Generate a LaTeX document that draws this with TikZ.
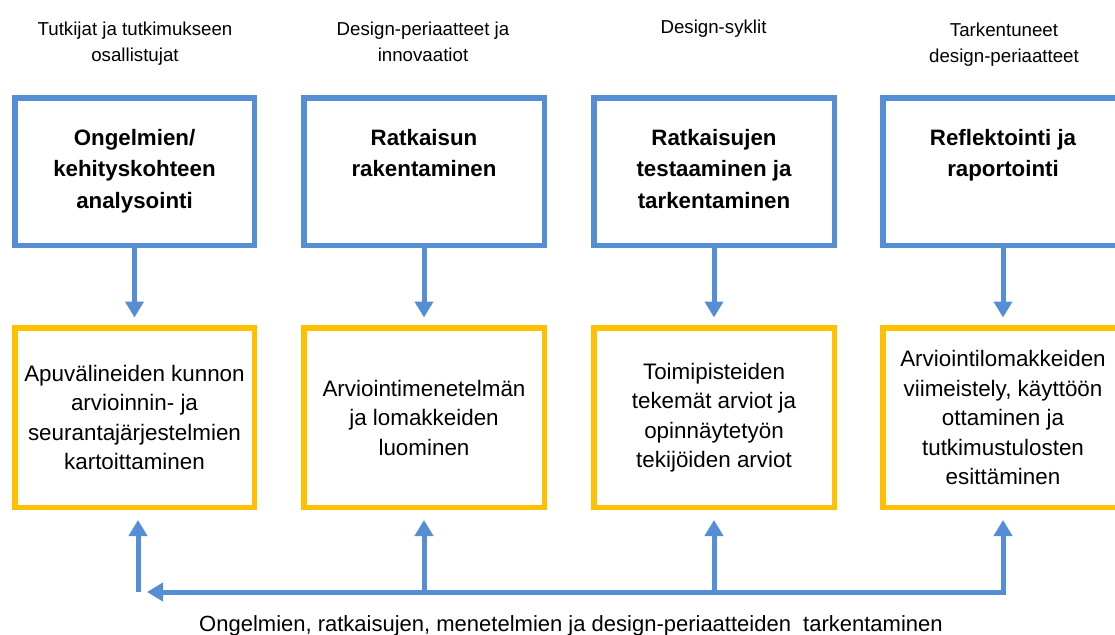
\documentclass[tikz,border=0pt]{standalone}
\usepackage{fontspec}
\setmainfont{Liberation Sans}
\usetikzlibrary{arrows.meta,calc}
\definecolor{bblue}{HTML}{558ED5}
\definecolor{byel}{HTML}{FFC000}
\begin{document}
\begin{tikzpicture}[x=1pt,y=-1pt,
  bluebox/.style={draw=bblue, line width=5.5pt, minimum width=240.5pt, minimum height=147.5pt, inner sep=0pt},
  yelbox/.style={draw=byel, line width=5.5pt, minimum width=240.5pt, minimum height=179.5pt, inner sep=0pt, align=center, font=\fontsize{22.4}{29.5}\selectfont},
  titletext/.style={align=center, font=\bfseries\fontsize{22.3}{31.5}\selectfont, inner sep=0pt, anchor=base},
  toplabel/.style={align=center, font=\fontsize{18.7}{26}\selectfont, inner sep=0pt, anchor=base},
  arr/.style={draw=bblue, line width=5pt, -{Triangle[width=18pt,length=16pt]}},
  arrboth/.style={draw=bblue, line width=5pt, {Triangle[width=18pt,length=16pt]}-{Triangle[width=18pt,length=16pt]}},
]
\useasboundingbox (0,0) rectangle (1115,634);
\clip (0,0) rectangle (1115,634);

% top labels (anchor = baseline of last line)
\node[toplabel] (l1) at (135,62) {Tutkijat ja tutkimukseen\\osallistujat};
\node[toplabel] (l2) at (423,62) {Design-periaatteet ja\\innovaatiot};
\node[toplabel] (l3) at (713.5,33.5) {Design-syklit};
\node[toplabel] (l4) at (1004,63) {Tarkentuneet\\design-periaatteet};

% blue boxes
\node[bluebox, minimum width=239.5pt] (b1) at (134.5,171.5) {};
\node[bluebox] (b2) at (424,171.5) {};
\node[bluebox] (b3) at (714,171.5) {};
\node[bluebox] (b4) at (1003,171.5) {};

% titles (anchor = baseline of last line)
\node[titletext] (t1) at ([yshift=-113.25pt]b1.north) {Ongelmien/\\kehityskohteen\\analysointi};
\node[titletext] (t2) at ([yshift=-81.75pt]b2.north) {Ratkaisun\\rakentaminen};
\node[titletext] (t3) at ([yshift=-113.25pt]b3.north) {Ratkaisujen\\testaaminen ja\\tarkentaminen};
\node[titletext] (t4) at ([yshift=-81.75pt]b4.north) {Reflektointi ja\\raportointi};

% yellow boxes
\node[yelbox, minimum width=239.5pt] (y1) at (134.5,417.5) {Apuvälineiden kunnon\\arvioinnin- ja\\seurantajärjestelmien\\kartoittaminen};
\node[yelbox] (y2) at (424,417.5) {Arviointimenetelmän\\ja lomakkeiden\\luominen};
\node[yelbox] (y3) at (714,417.5) {Toimipisteiden\\tekemät arviot ja\\opinnäytetyön\\tekijöiden arviot};
\node[yelbox] (y4) at (1003,417.5) {Arviointilomakkeiden\\viimeistely, käyttöön\\ottaminen ja\\tutkimustulosten\\esittäminen};

% down arrows
\foreach \i in {1,2,3,4}{
  \draw[arr, shorten >=7.5pt] (b\i.south) -- (y\i.north);
}

% feedback loop
\coordinate (base) at (0,592);
\coordinate (lend) at (147,592);
\draw[arrboth, shorten >=10pt] (lend) -- (y4.south |- base) -- (y4.south);
\draw[arr, shorten >=10pt] (y3.south |- base) -- (y3.south);
\draw[arr, shorten >=10pt] (y2.south |- base) -- (y2.south);
\coordinate (l1base) at (138,592);
\draw[arr, shorten >=10pt] (l1base) -- (l1base |- y1.south);

\node[anchor=base, inner sep=0pt, font=\fontsize{22}{26}\selectfont] (bottom) at (571,631) {Ongelmien, ratkaisujen, menetelmien ja design-periaatteiden\ \ tarkentaminen};
\end{tikzpicture}
\end{document}
